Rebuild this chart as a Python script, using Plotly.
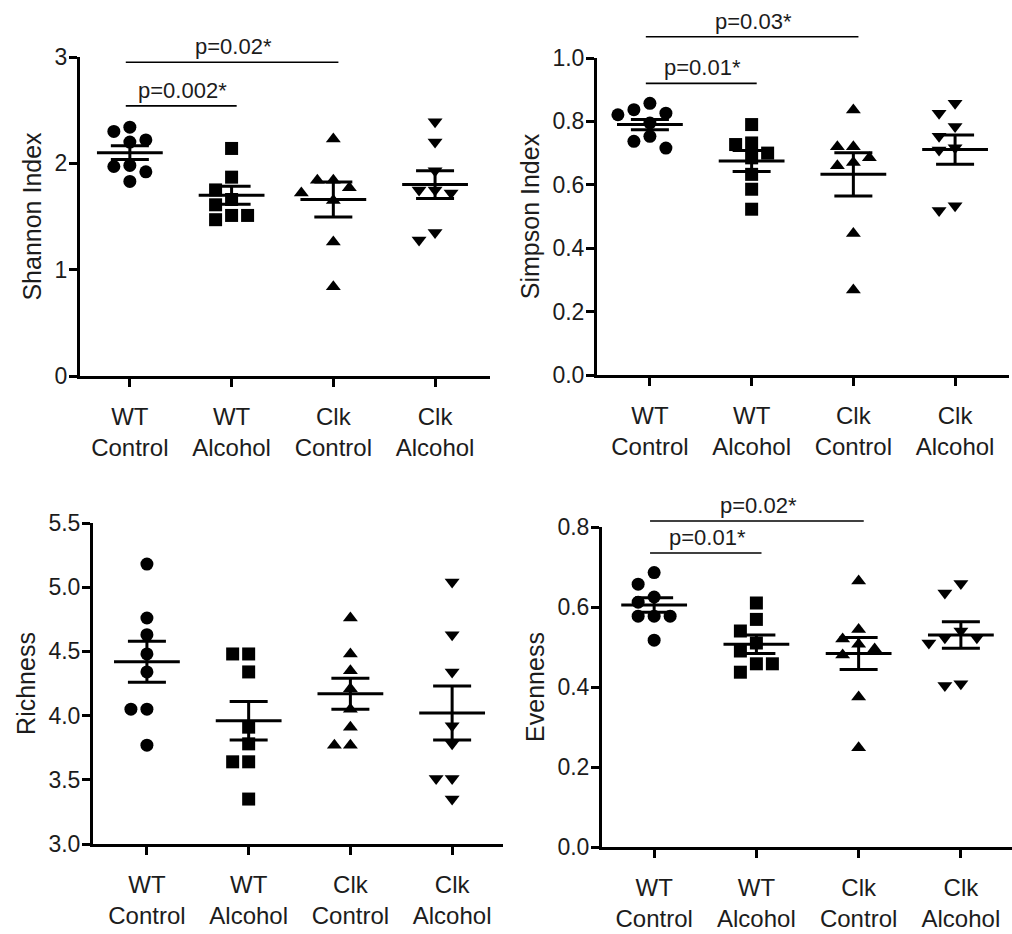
import plotly.graph_objects as go

W, H = 1012, 934

# ---------------- data ----------------
categories = ["WT<br>Control", "WT<br>Alcohol", "Clk<br>Control", "Clk<br>Alcohol"]
symbols = ["circle", "square", "triangle-up", "triangle-down"]

shannon_wt_control = [2.34, 2.30, 2.22, 2.20, 1.98, 1.97, 1.92, 1.83]
shannon_wt_alcohol = [2.14, 1.87, 1.75, 1.66, 1.61, 1.51, 1.47, 1.51]
shannon_clk_control = [2.23, 1.84, 1.84, 1.77, 1.72, 1.65, 1.26, 0.84]
shannon_clk_alcohol = [2.39, 2.20, 1.93, 1.75, 1.75, 1.72, 1.35, 1.28]
shannon_means = [2.10, 1.70, 1.66, 1.80]
shannon_sems = [0.065, 0.085, 0.165, 0.13]

simpson_wt_control = [0.857, 0.837, 0.826, 0.821, 0.795, 0.753, 0.737, 0.716]
simpson_wt_alcohol = [0.790, 0.727, 0.732, 0.700, 0.685, 0.633, 0.586, 0.523]
simpson_clk_control = [0.836, 0.720, 0.720, 0.685, 0.670, 0.660, 0.446, 0.268]
simpson_clk_alcohol = [0.857, 0.826, 0.784, 0.753, 0.717, 0.710, 0.534, 0.519]
simpson_means = [0.790, 0.675, 0.633, 0.711]
simpson_sems = [0.016, 0.033, 0.068, 0.046]

richness_wt_control = [5.18, 4.76, 4.63, 4.48, 4.34, 4.05, 4.05, 3.77]
richness_wt_alcohol = [4.48, 4.48, 4.34, 3.91, 3.78, 3.64, 3.64, 3.35]
richness_clk_control = [4.76, 4.48, 4.35, 4.21, 4.05, 3.91, 3.77, 3.77]
richness_clk_alcohol = [5.04, 4.63, 4.34, 3.92, 3.78, 3.51, 3.51, 3.35]
richness_means = [4.42, 3.96, 4.17, 4.02]
richness_sems = [0.16, 0.15, 0.12, 0.21]

evenness_wt_control = [0.686, 0.657, 0.625, 0.612, 0.577, 0.577, 0.577, 0.517]
evenness_wt_alcohol = [0.610, 0.569, 0.540, 0.510, 0.490, 0.458, 0.458, 0.437]
evenness_clk_control = [0.665, 0.544, 0.520, 0.507, 0.495, 0.480, 0.375, 0.248]
evenness_clk_alcohol = [0.659, 0.635, 0.540, 0.523, 0.523, 0.510, 0.408, 0.404]
evenness_means = [0.605, 0.507, 0.484, 0.530]
evenness_sems = [0.018, 0.023, 0.040, 0.033]

# significance brackets: (from group, to group, height, label)
shannon_brackets = [(0, 1, 2.54, "p=0.002*"), (0, 2, 2.95, "p=0.02*")]
simpson_brackets = [(0, 1, 0.92, "p=0.01*"), (0, 2, 1.067, "p=0.03*")]
richness_brackets = []
evenness_brackets = [(0, 1, 0.735, "p=0.01*"), (0, 2, 0.815, "p=0.02*")]

# ---------------- layout helpers ----------------
FONT = "Liberation Sans, Arial, sans-serif"
TXT = "#1c1c1c"

panels = [
    dict(groups=[shannon_wt_control, shannon_wt_alcohol, shannon_clk_control, shannon_clk_alcohol],
         means=shannon_means, sems=shannon_sems, brackets=shannon_brackets,
         title="Shannon Index", yrange=[0, 3], dtick=1, fmt="d",
         xpx=(80, 490), ypx=(57, 376), xrange=[-0.49, 3.54]),
    dict(groups=[simpson_wt_control, simpson_wt_alcohol, simpson_clk_control, simpson_clk_alcohol],
         means=simpson_means, sems=simpson_sems, brackets=simpson_brackets,
         title="Simpson Index", yrange=[0, 1.0], dtick=0.2, fmt=".1f",
         xpx=(597, 1009), ypx=(58, 375), xrange=[-0.52, 3.53]),
    dict(groups=[richness_wt_control, richness_wt_alcohol, richness_clk_control, richness_clk_alcohol],
         means=richness_means, sems=richness_sems, brackets=richness_brackets,
         title="Richness", yrange=[3.0, 5.5], dtick=0.5, fmt=".1f",
         xpx=(93, 503), ypx=(523, 844), xrange=[-0.53, 3.50]),
    dict(groups=[evenness_wt_control, evenness_wt_alcohol, evenness_clk_control, evenness_clk_alcohol],
         means=evenness_means, sems=evenness_sems, brackets=evenness_brackets,
         title="Evenness", yrange=[0, 0.8], dtick=0.2, fmt=".1f",
         xpx=(602, 1012), ypx=(527, 847), xrange=[-0.51, 3.50]),
]


def dodge(values, px_per_unit, px_per_cat, diam=13.0, step=16.0):
    """Spread overlapping points sideways (scatter-dot layout)."""
    placed, offs = [], [0.0] * len(values)
    order = sorted(range(len(values)), key=lambda i: -values[i])
    cands = [0.0]
    for n in range(1, 6):
        cands += [-n * step, n * step]
    for i in order:
        y = values[i] * px_per_unit
        chosen = cands[-1]
        for c in cands:
            if all((c - px) ** 2 + (y - py) ** 2 >= diam ** 2 for px, py in placed):
                chosen = c
                break
        placed.append((chosen, y))
        offs[i] = chosen / px_per_cat
    return offs


fig = go.Figure()
layout = dict(width=W, height=H, margin=dict(l=0, r=0, t=0, b=0, pad=0), autosize=False,
              paper_bgcolor="white", plot_bgcolor="white", showlegend=False,
              font=dict(family=FONT, color=TXT, size=23))
shapes, annotations = [], []

for k, p in enumerate(panels):
    sfx = "" if k == 0 else str(k + 1)
    xa, ya = "x" + sfx, "y" + sfx
    xdom = [p["xpx"][0] / W, p["xpx"][1] / W]
    ydom = [1 - p["ypx"][1] / H, 1 - p["ypx"][0] / H]
    y0, y1 = p["yrange"]
    px_per_unit = (p["ypx"][1] - p["ypx"][0]) / (y1 - y0)
    px_per_cat = (p["xpx"][1] - p["xpx"][0]) / (p["xrange"][1] - p["xrange"][0])

    for gi, vals in enumerate(p["groups"]):
        offs = dodge(vals, px_per_unit, px_per_cat)
        fig.add_trace(go.Scatter(
            x=[gi + o for o in offs], y=vals, mode="markers", xaxis=xa, yaxis=ya,
            marker=dict(symbol=symbols[gi], size=13, color="black", line=dict(width=0)),
            hoverinfo="y"))

    fig.add_trace(go.Scatter(
        x=list(range(len(p["means"]))), y=p["means"], mode="markers", xaxis=xa, yaxis=ya,
        marker=dict(symbol="line-ew", size=47, color="black", line=dict(width=3, color="black")),
        error_y=dict(type="data", array=p["sems"], visible=True, color="black",
                     thickness=3, width=19),
        hoverinfo="y"))

    for (a, b, h, label) in p["brackets"]:
        frac = (h - y0) / (y1 - y0)
        shapes.append(dict(type="line", xref=xa, yref=ya + " domain",
                           x0=a - 0.04, x1=b + 0.05, y0=frac, y1=frac,
                           line=dict(color="black", width=1.6)))
        annotations.append(dict(xref=xa, yref=ya + " domain", x=(a + b) / 2 + 0.02, y=frac,
                                text=label, showarrow=False, yanchor="bottom", xanchor="center",
                                yshift=1, font=dict(size=22, color=TXT, family=FONT)))

    layout["xaxis" + sfx] = dict(
        domain=xdom, anchor=ya, range=p["xrange"], tickmode="array",
        tickvals=list(range(len(categories))), ticktext=categories,
        showline=True, linecolor="black", linewidth=3, ticks="outside",
        ticklen=8, tickwidth=3, tickcolor="black", showgrid=False, zeroline=False,
        automargin=False,
        tickfont=dict(size=24, color=TXT, family=FONT), ticklabelstandoff=9)
    layout["yaxis" + sfx] = dict(
        domain=ydom, anchor=xa, range=p["yrange"], tick0=y0, dtick=p["dtick"],
        tickformat=p["fmt"], showline=True, linecolor="black", linewidth=3,
        ticks="outside", ticklen=8, tickwidth=3, tickcolor="black",
        showgrid=False, zeroline=False, ticklabelstandoff=-3, automargin=False,
        tickfont=dict(size=23, color=TXT, family=FONT),
        title=dict(text=p["title"], font=dict(size=25, color=TXT, family=FONT), standoff=6))

layout["shapes"] = shapes
layout["annotations"] = annotations
fig.update_layout(**layout)
fig.write_html("out.html")
